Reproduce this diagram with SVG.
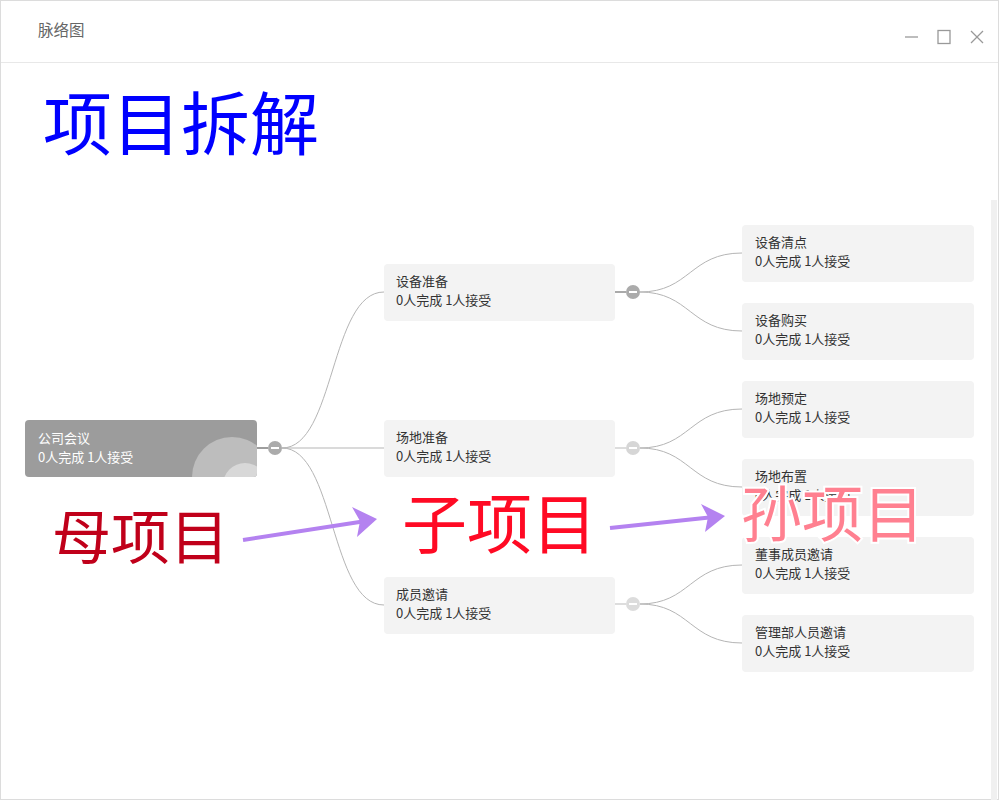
<svg xmlns="http://www.w3.org/2000/svg" width="999" height="800" viewBox="0 0 999 800">
<style>
text{font-family:"Noto Sans CJK SC","Noto Sans",sans-serif}
.node{fill:#f3f3f3}
.t{font-size:13px;fill:#333}
.rt{font-size:13px;fill:#fff}
.link{fill:none;stroke:#b5b5b5;stroke-width:1}
.tog{fill:#ababab}
.minus{stroke:#fff;stroke-width:2}
.arrow{stroke:#b482f0;stroke-width:4;fill:none}
.head{fill:#b482f0}
</style>
<rect x="0.5" y="0.5" width="998" height="799" fill="#fff" stroke="#dcdcdc"/>
<line x1="1" y1="62.5" x2="998" y2="62.5" stroke="#e8e8e8"/>
<text x="38" y="36" font-size="15.5" fill="#666">脉络图</text>
<g stroke="#999" stroke-width="1.3" fill="none">
<line x1="905" y1="37" x2="918" y2="37"/>
<rect x="938" y="30.5" width="12" height="13"/>
<line x1="971" y1="31" x2="983" y2="43"/><line x1="983" y1="31" x2="971" y2="43"/>
</g>
<rect x="991" y="200" width="6" height="600" fill="#f0f0f0"/>
<text x="43" y="150" font-size="69" fill="#0000ff">项目拆解</text>

<g id="connectors">
<path class="link" d="M282,448 C335,448 330,292 384,292"/>
<path class="link" d="M282,448 L384,448" stroke="#e6e6e6"/>
<path class="link" d="M282,448 C335,448 330,605 384,605"/>
<path class="link" d="M640,292 C690,292 690,253 742,253"/>
<path class="link" d="M640,292 C690,292 690,331 742,331" stroke="#d8d8d8"/>
<path class="link" d="M640,448 C690,448 690,409 742,409"/>
<path class="link" d="M640,448 C690,448 690,487 742,487"/>
<path class="link" d="M640,604 C690,604 690,565 742,565"/>
<path class="link" d="M640,604 C690,604 690,643 742,643"/>
<line x1="257" y1="448" x2="268" y2="448" stroke="#9e9e9e" stroke-width="2"/>
<line x1="615" y1="292" x2="626" y2="292" stroke="#aaa" stroke-width="2"/>
<line x1="615" y1="448" x2="626" y2="448" stroke="#ddd" stroke-width="2"/>
<line x1="615" y1="604" x2="626" y2="604" stroke="#ddd" stroke-width="2"/>
</g>

<g id="root">
<clipPath id="rc"><rect x="25" y="420" width="232" height="57" rx="4"/></clipPath>
<rect x="25" y="420" width="232" height="57" rx="4" fill="#9c9c9c"/>
<g clip-path="url(#rc)">
<circle cx="232" cy="477" r="40" fill="#bdbdbd"/>
<circle cx="245" cy="485" r="22" fill="#d8d8d8"/>
</g>
<text class="rt" x="38" y="443">公司会议</text>
<text class="rt" x="38" y="462">0人完成 1人接受</text>
<circle class="tog" cx="275" cy="448" r="7"/>
<line class="minus" x1="271" y1="448" x2="279" y2="448"/>
</g>

<g id="c1">
<rect class="node" x="384" y="264" width="231" height="57" rx="4"/>
<text class="t" x="396" y="286">设备准备</text>
<text class="t" x="396" y="305">0人完成 1人接受</text>
<circle class="tog" cx="633" cy="292" r="7"/>
<line class="minus" x1="629" y1="292" x2="637" y2="292"/>
</g>
<g id="c2">
<rect class="node" x="384" y="420" width="231" height="57" rx="4"/>
<text class="t" x="396" y="442">场地准备</text>
<text class="t" x="396" y="461">0人完成 1人接受</text>
<circle cx="633" cy="448" r="7" fill="#d6d6d6"/>
<line class="minus" x1="629" y1="448" x2="637" y2="448"/>
</g>
<g id="c3">
<rect class="node" x="384" y="577" width="231" height="57" rx="4"/>
<text class="t" x="396" y="599">成员邀请</text>
<text class="t" x="396" y="618">0人完成 1人接受</text>
<circle cx="633" cy="604" r="7" fill="#dcdcdc"/>
<line class="minus" x1="629" y1="604" x2="637" y2="604"/>
</g>

<g id="g1"><rect class="node" x="742" y="225" width="232" height="57" rx="4"/><text class="t" x="755" y="247">设备清点</text><text class="t" x="755" y="266">0人完成 1人接受</text></g>
<g id="g2"><rect class="node" x="742" y="303" width="232" height="57" rx="4"/><text class="t" x="755" y="325">设备购买</text><text class="t" x="755" y="344">0人完成 1人接受</text></g>
<g id="g3"><rect class="node" x="742" y="381" width="232" height="57" rx="4"/><text class="t" x="755" y="403">场地预定</text><text class="t" x="755" y="422">0人完成 1人接受</text></g>
<g id="g4"><rect class="node" x="742" y="459" width="232" height="57" rx="4"/><text class="t" x="755" y="481">场地布置</text><text class="t" x="755" y="500">0人完成 1人接受</text></g>
<g id="g5"><rect class="node" x="742" y="537" width="232" height="57" rx="4"/><text class="t" x="755" y="559">董事成员邀请</text><text class="t" x="755" y="578">0人完成 1人接受</text></g>
<g id="g6"><rect class="node" x="742" y="615" width="232" height="57" rx="4"/><text class="t" x="755" y="637">管理部人员邀请</text><text class="t" x="755" y="656">0人完成 1人接受</text></g>

<g id="annotations">
<text x="52" y="559" font-size="59" fill="#c0001a">母项目</text>
<text x="402" y="548" font-size="65" fill="#ff0a24">子项目</text>
<text x="741" y="537" font-size="61" fill="#ff8090" stroke="#fff" stroke-width="4" paint-order="stroke">孙项目</text>
<path class="arrow" d="M243,540 L366,521"/>
<polygon class="head" points="377,519 352,507 360,521 357,537"/>
<path class="arrow" d="M610,528 L714,517"/>
<polygon class="head" points="725,516 701,504 708,517 705,532"/>
</g>
</svg>
